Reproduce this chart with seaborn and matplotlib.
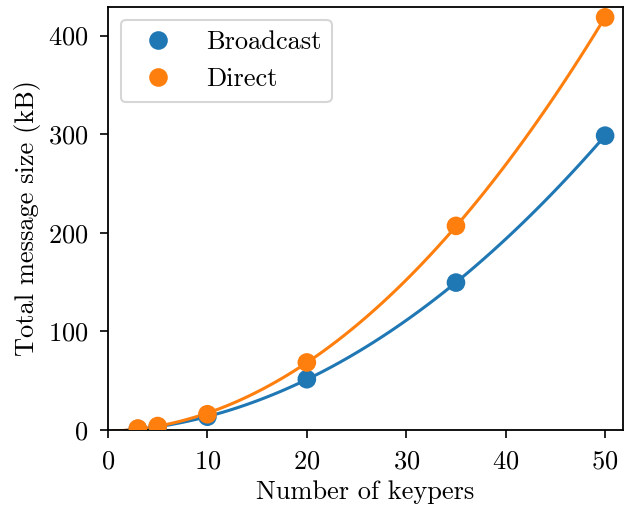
import matplotlib
matplotlib.use("Agg")
import matplotlib.pyplot as plt
import seaborn as sns
import pandas as pd

keypers = [3, 5, 10, 20, 35, 50]
broadcast = [1.0, 3.0, 13.5, 51.5, 149.5, 298.5]
direct = [1.5, 4.0, 16.0, 68.5, 207.0, 418.5]

df = pd.DataFrame({
    "keypers": keypers * 2,
    "size": broadcast + direct,
    "method": ["Broadcast"] * len(keypers) + ["Direct"] * len(keypers),
})

sns.set_style("ticks", {"axes.edgecolor": "black", "xtick.color": "black",
                        "ytick.color": "black", "text.color": "black",
                        "axes.labelcolor": "black"})
plt.rcParams["font.family"] = ["cmr10"]
plt.rcParams["mathtext.fontset"] = "cm"
plt.rcParams["axes.formatter.use_mathtext"] = True
FS = 19
plt.rcParams["font.size"] = FS

palette = {"Broadcast": "#1f77b4", "Direct": "#ff7f0e"}

fig = plt.figure(figsize=(6.24, 5.12), dpi=100)
ax = fig.add_axes([108 / 624, 1 - 430 / 512, (623 - 108) / 624, (430 - 7) / 512])
ax.set_xlim(0, 50)
for name in ["Broadcast", "Direct"]:
    sub = df[df["method"] == name]
    sns.regplot(data=sub, x="keypers", y="size", order=2, ci=None, scatter=False,
                truncate=False, color=palette[name], line_kws={"lw": 2.2}, ax=ax)
sns.scatterplot(data=df, x="keypers", y="size", hue="method", palette=palette,
                s=180, edgecolor="none", zorder=3, ax=ax)
ax.set_xlim(0, 51.8)
ax.set_ylim(0, 429)
ax.set_xticks([0, 10, 20, 30, 40, 50])
ax.set_yticks([0, 100, 200, 300, 400])
ax.set_xlabel("Number of keypers", fontsize=FS, labelpad=5)
ax.set_ylabel("Total message size (kB)", fontsize=FS, labelpad=5)
ax.tick_params(labelsize=FS, width=1.2, length=6, pad=8, color="black",
               labelcolor="black")
for s in ax.spines.values():
    s.set_linewidth(1.3)
    s.set_color("black")
leg = ax.legend(loc="upper left", fontsize=FS, markerscale=1.0,
                frameon=True, title=None)
leg.get_frame().set_edgecolor("#cccccc")
leg.get_frame().set_linewidth(1.5)
fig.savefig("out.png", dpi=100)
